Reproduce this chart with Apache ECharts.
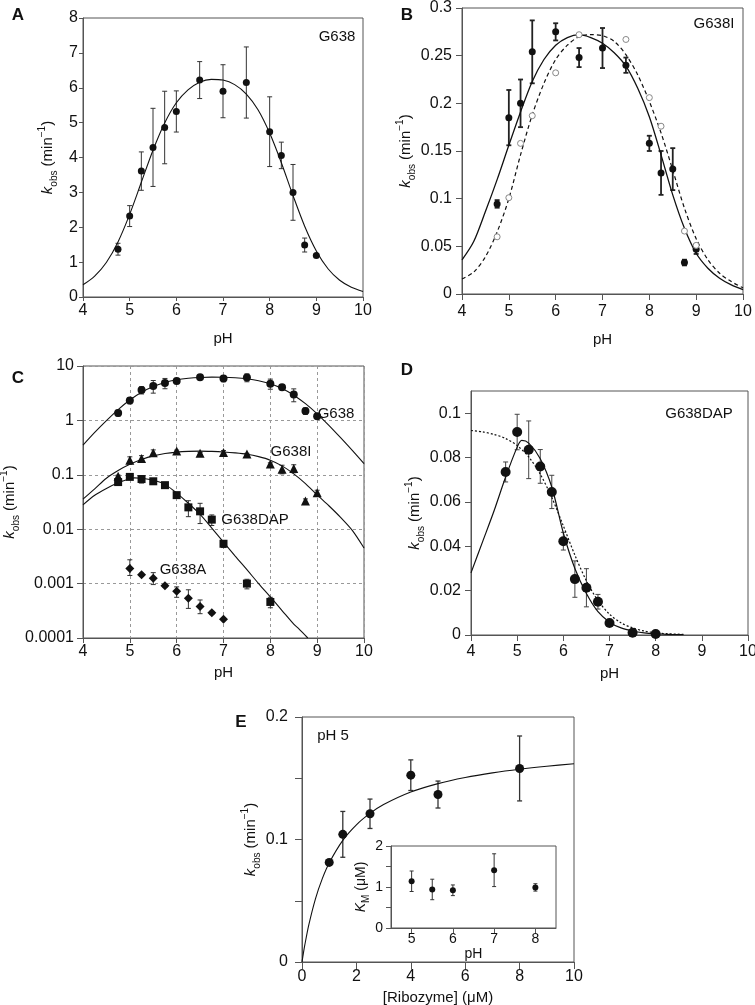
<!DOCTYPE html>
<html><head><meta charset="utf-8">
<script src="https://cdn.jsdelivr.net/npm/echarts@6/dist/echarts.min.js"></script>
<style>html,body{margin:0;padding:0;background:#fff}#c{width:755px;height:1005px}</style>
</head><body><div id="c"></div>
<script>
// ---------------- DATA ----------------
// Panel A: G638
const aPH  = [4.75,5,5.25,5.5,5.75,6,6.5,7,7.5,8,8.25,8.5,8.75,9];
const aK   = [1.37,2.32,3.61,4.29,4.86,5.32,6.22,5.90,6.15,4.74,4.06,3.00,1.49,1.19];
const aErr = [0.17,0.30,0.55,1.12,1.04,0.59,0.53,0.76,1.02,1.00,0.38,0.80,0.20,0.05];
const curvePH = [4,4.25,4.5,4.75,5,5.25,5.5,5.75,6,6.25,6.5,6.75,7,7.25,7.5,7.75,8,8.25,8.5,8.75,9,9.25,9.5,9.75,10];
const aCurve  = [0.35,0.60,0.99,1.58,2.37,3.29,4.21,4.99,5.57,5.94,6.16,6.24,6.22,6.09,5.82,5.37,4.70,3.85,2.91,2.03,1.32,0.81,0.48,0.28,0.16];

// Panel B: G638I (filled with error bars, open without)
const bPH  = [4.75,5,5.25,5.5,6,6.5,7,7.5,8,8.25,8.5,8.75,9];
const bK   = [0.0945,0.185,0.200,0.254,0.275,0.248,0.258,0.240,0.158,0.127,0.131,0.033,0.047];
const bErr = [0.004,0.029,0.025,0.033,0.009,0.010,0.021,0.008,0.008,0.023,0.022,0.003,0.005];
const bOpenPH = [4.75,5,5.25,5.5,6,6.5,7.5,8,8.25,8.75,9];
const bOpenK  = [0.060,0.101,0.158,0.187,0.232,0.272,0.267,0.206,0.176,0.066,0.051];
const bSolid  = [0.0357,0.055,0.0865,0.120,0.156,0.191,0.223,0.246,0.261,0.269,0.272,0.269,0.263,0.253,0.239,0.216,0.186,0.146,0.104,0.069,0.0427,0.027,0.0165,0.0095,0.0045];
const bDashed = [0.0158,0.023,0.039,0.065,0.100,0.146,0.188,0.221,0.246,0.261,0.270,0.272,0.271,0.265,0.251,0.230,0.202,0.169,0.130,0.090,0.058,0.036,0.0217,0.013,0.0065];

// Panel C extra: G638A
const cAPH = [5,5.25,5.5,5.75,6,6.25,6.5,6.75,7];
const cAK  = [0.0019,0.00145,0.00126,0.00091,0.00072,0.00054,0.00038,0.00029,0.00022];
const cALo = [0.00141,0.00135,0.00096,0.00086,0.00056,0.00035,0.00028,0.00027,0.00021];
const cAHi = [0.00274,0.00155,0.00159,0.00096,0.00087,0.00077,0.0005,0.00031,0.00023];
const cTickLabels = ['0.0001','0.001','0.01','0.1','1','10'];

// Panel D: G638DAP
const dPH  = [4.75,5,5.25,5.5,5.75,6,6.25,6.5,6.75,7,7.5,8];
const dK   = [0.0735,0.0915,0.0835,0.076,0.0645,0.0423,0.0252,0.0213,0.015,0.0054,0.001,0.00046];
const dErr = [0.0045,0.008,0.013,0.0076,0.0075,0.004,0.0082,0.0086,0.0033,0.0008,0.0002,0.0001];
const dapPH = [4,4.25,4.5,4.75,5,5.1,5.25,5.5,5.75,6,6.25,6.5,6.75,7,7.25,7.5,7.75,8,8.25,8.5,8.6,8.8];
const dapK  = [0.028,0.042,0.056,0.0712,0.0847,0.0877,0.0865,0.0795,0.0667,0.046,0.030,0.0187,0.0105,0.0058,0.0032,0.0018,0.001,0.00057,0.00032,0.00018,0.00015,0.0001];
const dotPH = [4,4.25,4.5,4.75,5,5.25,5.5,5.75,6,6.25,6.5,6.75,7,7.25,7.5,7.75,8,8.25,8.6];
const dotK  = [0.0922,0.0916,0.0904,0.0886,0.0854,0.0803,0.0725,0.0620,0.0492,0.0360,0.0244,0.0155,0.0094,0.0055,0.0032,0.0018,0.0010,0.00059,0.00026];

// Panel E: pH 5
const eX   = [1,1.5,2.5,4,5,8];
const eK   = [0.0813,0.1042,0.121,0.1525,0.1367,0.158];
const eErr = [0.002,0.0187,0.012,0.0125,0.011,0.0265];
const eCurveX = [0,0.05,0.1,0.25,0.5,0.75,1,1.5,2,2.5,3,4,5,6,7,8,9,10];
const eCurveK = [0,0.0070,0.0135,0.0303,0.052,0.0683,0.0809,0.0993,0.112,0.1213,0.1285,0.1387,0.1456,0.1506,0.1544,0.1574,0.1598,0.1618];

// Inset: KM vs pH
const kmPH  = [5,5.5,6,7,8];
const kmVal = [1.14,0.94,0.92,1.41,0.99];
const kmErr = [0.25,0.25,0.13,0.40,0.09];

// ---------------- CHART ----------------
const F = '"Liberation Sans", Arial, Helvetica, sans-serif';
const INK = '#111';
const FRAME = '#555';
const LFS = 16;
const zip = (xs, ys) => xs.map((x, i) => [x, ys[i]]);
const lo = (k, e) => k.map((v, i) => v - e[i]);
const hi = (k, e) => k.map((v, i) => v + e[i]);

const gridBase = {show: true, borderColor: FRAME, borderWidth: 1, backgroundColor: 'transparent', containLabel: false, outerBoundsMode: 'none'};
const grid = [
  {left: 83,  top: 18,  width: 280, height: 279},
  {left: 462, top: 8,   width: 281, height: 286},
  {left: 83,  top: 366, width: 281, height: 272},
  {left: 471, top: 391, width: 277, height: 244},
  {left: 302, top: 717, width: 272, height: 245},
  {left: 391, top: 846, width: 165, height: 82}
].map(g => Object.assign({}, gridBase, g));

const kName = '{i|k}{s|obs}{n| (min}{p|\u22121}{n|)}';
const kRich = {
  i: {fontStyle: 'italic', fontSize: 15, lineHeight: 22, fontFamily: F, color: INK},
  n: {fontSize: 15, lineHeight: 22, fontFamily: F, color: INK},
  s: {fontSize: 10, verticalAlign: 'bottom', fontFamily: F, color: INK},
  p: {fontSize: 10, verticalAlign: 'top', fontFamily: F, color: INK}
};

function axisCommon(tickLen, margin, fs) {
  return {
    axisLine: {show: true, onZero: false, lineStyle: {color: FRAME, width: 1}},
    axisTick: {show: true, inside: false, length: tickLen, lineStyle: {color: FRAME, width: 1}},
    axisLabel: {color: INK, fontSize: fs || LFS, fontFamily: F, margin: margin},
    splitLine: {show: false},
    nameLocation: 'middle',
    nameTextStyle: {color: INK, fontSize: 15, fontFamily: F}
  };
}
function phX(gi, tickLen, margin, gap) {
  return Object.assign(axisCommon(tickLen, margin), {gridIndex: gi, type: 'value', min: 4, max: 10, interval: 1, name: 'pH', nameGap: gap});
}

const xAxis = [
  phX(0, 4, 6, 34),
  phX(1, 6, 10, 38),
  Object.assign(phX(2, 5, 6, 27), {splitLine: {show: true, lineStyle: {color: '#999', type: [3, 3], width: 1}}}),
  phX(3, 6, 9, 31),
  Object.assign(axisCommon(7, 7), {gridIndex: 4, type: 'value', min: 0, max: 10, interval: 2, name: '[Ribozyme] (\u03bcM)', nameGap: 28}),
  Object.assign(axisCommon(5, 4, 14), {gridIndex: 5, type: 'value', min: 4.5, max: 8.5,
    axisLabel: {color: INK, fontSize: 14, fontFamily: F, margin: 4, customValues: [5, 6, 7, 8]},
    axisTick: {show: true, inside: false, length: 5, lineStyle: {color: FRAME}, customValues: [5, 6, 7, 8]},
    name: 'pH', nameGap: 16, nameTextStyle: {color: INK, fontSize: 14, fontFamily: F}})
];

function kY(gi, extra, tickLen, margin, gap) {
  const a = axisCommon(tickLen, margin);
  return Object.assign(a, {gridIndex: gi, type: 'value', name: kName, nameRotate: 90, nameGap: gap,
    nameTextStyle: {color: INK, fontSize: 15, fontFamily: F, rich: kRich}}, extra);
}
const dTicks = [0, 0.02, 0.04, 0.06, 0.08, 0.1];
const yAxis = [
  kY(0, {min: 0, max: 8, interval: 1}, 4, 5, 24),
  kY(1, {min: 0, max: 0.3, interval: 0.05}, 6, 10, 41),
  kY(2, {type: 'log', logBase: 10, min: 0.0001, max: 10,
    splitLine: {show: true, lineStyle: {color: '#999', type: [3, 3], width: 1}},
    axisLabel: {color: INK, fontSize: LFS, fontFamily: F, margin: 9,
      formatter: v => cTickLabels[Math.round(Math.log10(v)) + 4]}}, 6, 9, 61),
  kY(3, {min: 0, max: 0.11,
    axisLabel: {color: INK, fontSize: LFS, fontFamily: F, margin: 10, customValues: dTicks, formatter: v => String(+(+v).toFixed(2))},
    axisTick: {show: true, inside: false, length: 6, lineStyle: {color: FRAME}, customValues: dTicks}}, 6, 10, 42),
  kY(4, {min: 0, max: 0.2, interval: 0.05,
    axisLabel: {color: INK, fontSize: LFS, fontFamily: F, margin: 14,
      formatter: v => (Math.abs(v * 10 - Math.round(v * 10)) < 1e-6 ? String(+(+v).toFixed(1)) : '')}}, 7, 14, 34),
  Object.assign(axisCommon(5, 8, 14), {gridIndex: 5, type: 'value', min: 0, max: 2, interval: 0.5,
    axisLabel: {color: INK, fontSize: 14, fontFamily: F, margin: 8,
      formatter: v => (Math.abs(v - Math.round(v)) < 1e-6 ? String(Math.round(v)) : '')},
    name: '{i|K}{s|M}{n| (\u03bcM)}', nameRotate: 90, nameGap: 8,
    nameTextStyle: {color: INK, fontSize: 14, fontFamily: F, rich: {
      i: {fontStyle: 'italic', fontSize: 14, lineHeight: 20, fontFamily: F, color: INK},
      n: {fontSize: 14, lineHeight: 20, fontFamily: F, color: INK},
      s: {fontSize: 10, verticalAlign: 'bottom', fontFamily: F, color: INK}}}})
];

function errSeries(ax, xs, los, his, color, width, cap) {
  return {
    type: 'custom', xAxisIndex: ax, yAxisIndex: ax, silent: true, z: 2,
    data: xs.map((x, i) => [x, los[i], his[i]]),
    encode: {x: 0, y: [1, 2]},
    renderItem: (params, api) => {
      const x = api.value(0), l = api.value(1), h = api.value(2);
      const a = api.coord([x, h]), b = api.coord([x, l]);
      const st = {stroke: color, lineWidth: width};
      return {type: 'group', children: [
        {type: 'line', shape: {x1: a[0], y1: a[1], x2: b[0], y2: b[1]}, style: st},
        {type: 'line', shape: {x1: a[0] - cap, y1: a[1], x2: a[0] + cap, y2: a[1]}, style: st},
        {type: 'line', shape: {x1: b[0] - cap, y1: b[1], x2: b[0] + cap, y2: b[1]}, style: st}
      ]};
    }
  };
}
function pts(ax, xs, ys, symbol, size, style) {
  return {type: 'scatter', xAxisIndex: ax, yAxisIndex: ax, data: zip(xs, ys), symbol: symbol, symbolSize: size,
    itemStyle: Object.assign({color: INK, opacity: 1}, style || {}), z: 4, silent: true};
}
function curve(ax, xs, ys, type, width) {
  return {type: 'line', xAxisIndex: ax, yAxisIndex: ax, data: zip(xs, ys), showSymbol: false, symbol: 'none',
    smooth: 0.3, lineStyle: {color: INK, width: width || 1.1, type: type || 'solid'}, z: 3, silent: true};
}

const dapIn = dapPH.map((x, i) => [x, dapK[i]]).filter(p => p[0] <= 8.6);

const series = [
  // A
  curve(0, curvePH, aCurve),
  errSeries(0, aPH, lo(aK, aErr), hi(aK, aErr), '#333', 1, 2.5),
  pts(0, aPH, aK, 'circle', 7),
  // B
  curve(1, curvePH, bSolid, 'solid', 1.3),
  curve(1, curvePH, bDashed, [4, 3], 1.2),
  errSeries(1, bPH, lo(bK, bErr), hi(bK, bErr), '#222', 1.8, 2.5),
  pts(1, bPH, bK, 'circle', 7),
  pts(1, bOpenPH, bOpenK, 'circle', 6, {color: '#fff', borderColor: '#888', borderWidth: 1}),
  // C
  curve(2, curvePH, aCurve),
  curve(2, curvePH, bSolid),
  curve(2, dapPH, dapK),
  errSeries(2, aPH, lo(aK, aErr), hi(aK, aErr), '#333', 1, 2.5),
  errSeries(2, bPH, lo(bK, bErr), hi(bK, bErr), '#333', 1, 2.5),
  errSeries(2, dPH, lo(dK, dErr), hi(dK, dErr), '#333', 1, 2.5),
  errSeries(2, cAPH, cALo, cAHi, '#333', 1, 2.5),
  pts(2, aPH, aK, 'circle', 8),
  pts(2, bPH, bK, 'triangle', 9),
  pts(2, dPH, dK, 'rect', 8),
  pts(2, cAPH, cAK, 'diamond', 9),
  // D
  {type: 'line', xAxisIndex: 3, yAxisIndex: 3, data: dapIn, showSymbol: false, symbol: 'none', smooth: 0.3,
    lineStyle: {color: INK, width: 1.2}, z: 3, silent: true},
  curve(3, dotPH, dotK, [2, 2], 1.2),
  errSeries(3, dPH, lo(dK, dErr), hi(dK, dErr), '#444', 1, 2.5),
  pts(3, dPH, dK, 'circle', 10),
  // E
  curve(4, eCurveX, eCurveK, 'solid', 1.1),
  errSeries(4, eX, lo(eK, eErr), hi(eK, eErr), '#333', 1.3, 2.5),
  pts(4, eX, eK, 'circle', 9),
  // inset
  errSeries(5, kmPH, lo(kmVal, kmErr), hi(kmVal, kmErr), '#333', 1, 2),
  pts(5, kmPH, kmVal, 'circle', 6)
];

const T = (text, x, y, size, bold) => ({type: 'text', x: x, y: y, silent: true, z: 10,
  style: {text: text, fill: INK, fontFamily: F, fontSize: size, fontWeight: bold ? 'bold' : 'normal', align: 'center', verticalAlign: 'middle'}});
const graphic = [
  T('A', 18, 15, 17, true), T('B', 407, 15, 17, true), T('C', 18, 378, 17, true),
  T('D', 407, 370, 17, true), T('E', 241, 722, 17, true),
  T('G638', 337, 37, 15), T('G638I', 714, 24, 15),
  T('G638', 336, 414, 15), T('G638I', 291, 452, 15), T('G638DAP', 255, 520, 15), T('G638A', 183, 570, 15),
  T('G638DAP', 699, 414, 15), T('pH 5', 333, 736, 15)
];

const chart = echarts.init(document.getElementById('c'), null, {renderer: 'canvas'});
chart.setOption({animation: false, backgroundColor: '#fff', grid, xAxis, yAxis, series, graphic});
</script></body></html>
